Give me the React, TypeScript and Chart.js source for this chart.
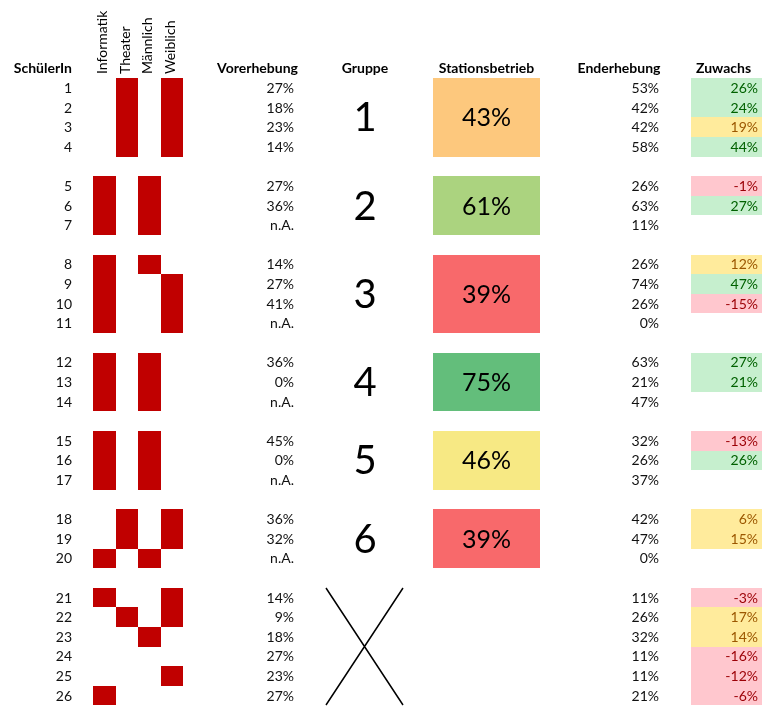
import React, { useEffect, useRef } from "react";
import { Chart, registerables } from "chart.js";

Chart.register(...registerables);

// ---- data ----
const students = ["1", "2", "3", "4", "5", "6", "7", "8", "9", "10", "11", "12", "13", "14", "15", "16", "17", "18", "19", "20", "21", "22", "23", "24", "25", "26"];

const categoryLabels = ["Informatik", "Theater", "Männlich", "Weiblich"];
const informatik = [0, 0, 0, 0, 1, 1, 1, 1, 1, 1, 1, 1, 1, 1, 1, 1, 1, 0, 0, 1, 1, 0, 0, 0, 0, 1];
const theater = [1, 1, 1, 1, 0, 0, 0, 0, 0, 0, 0, 0, 0, 0, 0, 0, 0, 1, 1, 0, 0, 1, 0, 0, 0, 0];
const maennlich = [0, 0, 0, 0, 1, 1, 1, 1, 0, 0, 0, 1, 1, 1, 1, 1, 1, 0, 0, 1, 0, 0, 1, 0, 0, 0];
const weiblich = [1, 1, 1, 1, 0, 0, 0, 0, 1, 1, 1, 0, 0, 0, 0, 0, 0, 1, 1, 0, 1, 1, 0, 0, 1, 0];

// null = "n.A." / no value
const vorerhebung = [27, 18, 23, 14, 27, 36, null, 14, 27, 41, null, 36, 0, null, 45, 0, null, 36, 32, null, 14, 9, 18, 27, 23, 27];
const enderhebung = [53, 42, 42, 58, 26, 63, 11, 26, 74, 26, 0, 63, 21, 47, 32, 26, 37, 42, 47, 0, 11, 26, 32, 11, 11, 21];
const zuwachs = [26, 24, 19, 44, -1, 27, null, 12, 47, -15, null, 27, 21, null, -13, 26, null, 6, 15, null, -3, 17, 14, -16, -12, -6];

const groupLabels = ["1", "2", "3", "4", "5", "6", ""];
const groupSizes = [4, 3, 4, 3, 3, 3, 6];
const stationsbetrieb = [43, 61, 39, 75, 46, 39];

const headers = {
  student: "SchülerIn",
  vor: "Vorerhebung",
  gruppe: "Gruppe",
  station: "Stationsbetrieb",
  end: "Enderhebung",
  zuwachs: "Zuwachs",
};

// ---- layout (x in pixel units of the 762-wide sheet, y in row slots) ----
const W = 762;
const H = 706;
const ROW_PX = 19.6;
const FIRST_ROW_Y = 88;
const COL = {
  studentRight: 72,
  catLeft: 93,
  catWidth: 22.5,
  catHeaderBottom: 74,
  vorRight: 294,
  vorHeader: 257.5,
  grpLeft: 326,
  grpRight: 403,
  grpCenter: 365,
  boxLeft: 433,
  boxRight: 540,
  endRight: 659,
  endHeader: 619,
  zuwLeft: 691,
  zuwRight: 762,
  zuwTextRight: 758,
  zuwHeader: 723.5,
};

const FONT = "Lato, 'Open Sans', sans-serif";
const TEXT_PX = 14;
const CELL_RED = "#C00000";

// Excel-like 3-colour scale (min red, median yellow, max green)
function colorScale(values: number[]) {
  const sorted = [...values].sort((a, b) => a - b);
  const n = sorted.length;
  const pos = 0.5 * (n - 1);
  const lo = Math.floor(pos);
  const mid = sorted[lo] + (sorted[Math.min(lo + 1, n - 1)] - sorted[lo]) * (pos - lo);
  const min = sorted[0];
  const max = sorted[n - 1];
  const red = [248, 105, 107];
  const yellow = [255, 235, 132];
  const green = [99, 190, 123];
  const mix = (a: number[], b: number[], t: number) =>
    `rgb(${a.map((c, i) => Math.round(c + (b[i] - c) * t)).join(",")})`;
  return (v: number) =>
    v <= mid ? mix(red, yellow, mid === min ? 1 : (v - min) / (mid - min)) : mix(yellow, green, (v - mid) / (max - mid));
}

function zuwachsStyle(v: number) {
  if (v >= 20) return { fill: "#C6EFCE", text: "#006100" };
  if (v >= 0) return { fill: "#FFEB9C", text: "#9C5700" };
  return { fill: "#FFC7CE", text: "#9C0006" };
}

// slot index per student (a blank row separates groups)
function buildSlots() {
  const slots: number[] = [];
  const groupSpans: [number, number][] = [];
  let s = 0;
  groupSizes.forEach((size) => {
    const first = s;
    for (let k = 0; k < size; k++) slots.push(s++);
    groupSpans.push([first, s - 1]);
    s++;
  });
  return { slots, groupSpans };
}

const tablePlugin = {
  id: "sheetTable",
  afterDraw(chart: any) {
    const { ctx } = chart;
    const xs = chart.scales.x;
    const ys = chart.scales.y;
    const px = (v: number) => xs.getPixelForValue(v);
    const py = (v: number) => ys.getPixelForValue(v);
    const { slots, groupSpans } = buildSlots();
    const flags = [informatik, theater, maennlich, weiblich];
    const stationColor = colorScale(stationsbetrieb);
    const top = (s: number) => Math.round(py(s - 0.5));
    const bottom = (s: number) => Math.round(py(s + 0.5));
    const pct = (v: number | null) => (v === null ? "n.A." : `${v}%`);

    ctx.save();

    // filled cells
    flags.forEach((col, c) => {
      col.forEach((f, i) => {
        if (!f) return;
        const l = Math.round(px(COL.catLeft + c * COL.catWidth));
        const r = Math.round(px(COL.catLeft + (c + 1) * COL.catWidth));
        ctx.fillStyle = CELL_RED;
        ctx.fillRect(l, top(slots[i]), r - l, bottom(slots[i]) - top(slots[i]));
      });
    });

    zuwachs.forEach((v, i) => {
      if (v === null) return;
      const l = Math.round(px(COL.zuwLeft));
      const r = Math.round(px(COL.zuwRight));
      ctx.fillStyle = zuwachsStyle(v).fill;
      ctx.fillRect(l, top(slots[i]), r - l, bottom(slots[i]) - top(slots[i]));
    });

    stationsbetrieb.forEach((v, g) => {
      const [a, b] = groupSpans[g];
      const l = Math.round(px(COL.boxLeft));
      const r = Math.round(px(COL.boxRight));
      ctx.fillStyle = stationColor(v);
      ctx.fillRect(l, top(a), r - l, bottom(b) - top(a));
    });

    // header row
    ctx.fillStyle = "#000";
    ctx.textBaseline = "middle";
    ctx.font = `bold ${TEXT_PX}px ${FONT}`;
    const hy = py(-1);
    ctx.textAlign = "right";
    ctx.fillText(headers.student, px(COL.studentRight), hy);
    ctx.textAlign = "center";
    ctx.fillText(headers.vor, px(COL.vorHeader), hy);
    ctx.fillText(headers.gruppe, px(COL.grpCenter), hy);
    ctx.fillText(headers.station, px((COL.boxLeft + COL.boxRight) / 2), hy);
    ctx.fillText(headers.end, px(COL.endHeader), hy);
    ctx.fillText(headers.zuwachs, px(COL.zuwHeader), hy);

    // rotated category headers
    ctx.font = `${TEXT_PX}px ${FONT}`;
    categoryLabels.forEach((label, c) => {
      ctx.save();
      ctx.translate(px(COL.catLeft + (c + 0.5) * COL.catWidth) - 1.5, COL.catHeaderBottom);
      ctx.rotate(-Math.PI / 2);
      ctx.textAlign = "left";
      ctx.textBaseline = "middle";
      ctx.fillText(label, 0, 0);
      ctx.restore();
    });

    // per-student values
    ctx.font = `${TEXT_PX}px ${FONT}`;
    ctx.textAlign = "right";
    students.forEach((s, i) => {
      const y = py(slots[i]) + 0.5;
      ctx.fillStyle = "#111";
      ctx.fillText(s, px(COL.studentRight), y);
      ctx.fillText(pct(vorerhebung[i]), px(COL.vorRight), y);
      ctx.fillText(pct(enderhebung[i]), px(COL.endRight), y);
      const z = zuwachs[i];
      if (z !== null) {
        ctx.fillStyle = zuwachsStyle(z).text;
        ctx.fillText(pct(z), px(COL.zuwTextRight), y);
      }
    });

    // groups: number + Stationsbetrieb share
    ctx.fillStyle = "#000";
    ctx.textAlign = "center";
    groupSpans.forEach(([a, b], g) => {
      const cy = (py(a) + py(b)) / 2;
      if (groupLabels[g]) {
        ctx.font = `40px ${FONT}`;
        ctx.fillText(groupLabels[g], px(COL.grpCenter), cy + 1);
      } else {
        // no group: crossed-out cell
        ctx.strokeStyle = "#000";
        ctx.lineWidth = 1.5;
        ctx.beginPath();
        ctx.moveTo(px(COL.grpLeft), top(a));
        ctx.lineTo(px(COL.grpRight), bottom(b));
        ctx.moveTo(px(COL.grpRight), top(a));
        ctx.lineTo(px(COL.grpLeft), bottom(b));
        ctx.stroke();
      }
      if (g < stationsbetrieb.length) {
        ctx.font = `25px ${FONT}`;
        ctx.fillText(pct(stationsbetrieb[g]), px((COL.boxLeft + COL.boxRight) / 2), cy + 1);
      }
    });

    ctx.restore();
  },
};

export default function App() {
  const canvasRef = useRef<HTMLCanvasElement | null>(null);

  useEffect(() => {
    if (!canvasRef.current) return;
    const chart = new Chart(canvasRef.current, {
      type: "scatter",
      data: { datasets: [] },
      options: {
        animation: false,
        responsive: true,
        maintainAspectRatio: false,
        layout: { padding: 0 },
        plugins: { legend: { display: false }, tooltip: { enabled: false } },
        scales: {
          x: { type: "linear", display: false, min: 0, max: W },
          y: {
            type: "linear",
            display: false,
            reverse: true,
            min: -FIRST_ROW_Y / ROW_PX,
            max: (H - FIRST_ROW_Y) / ROW_PX,
          },
        },
      },
      plugins: [tablePlugin],
    });
    return () => chart.destroy();
  }, []);

  return (
    <div style={{ position: "fixed", left: 0, top: 0, width: W, height: H, background: "#fff" }}>
      <canvas ref={canvasRef} />
    </div>
  );
}
